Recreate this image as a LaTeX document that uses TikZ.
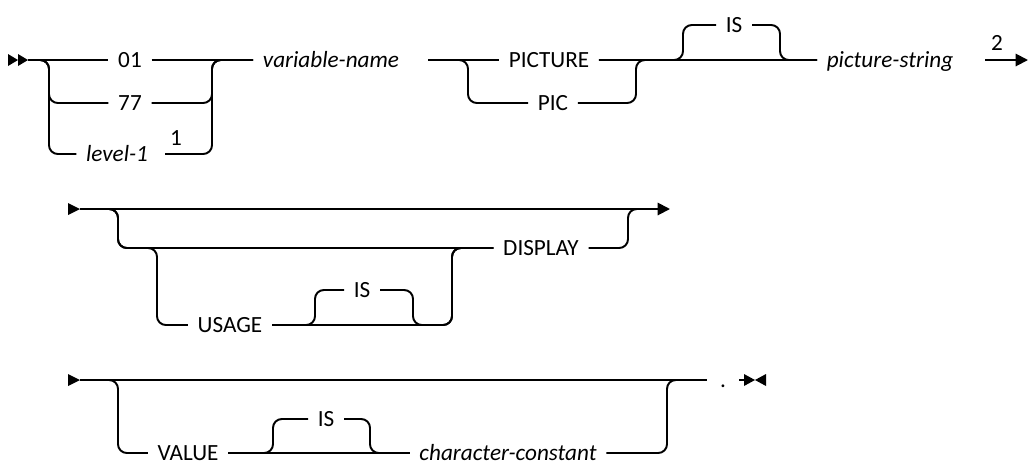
\documentclass[tikz,border=0pt]{standalone}
\usepackage{fontspec}
\setmainfont{Carlito}
\usetikzlibrary{calc, arrows.meta}

\begin{document}
\begin{tikzpicture}[x=0.02cm, y=-0.02cm, line width=1.1pt,
    rail/.style={rounded corners=5pt},
    kwd/.style={font=\fontsize{13.2}{15}\selectfont, inner xsep=5pt, inner ysep=0pt, text height=8.5pt, text depth=0pt},
    ital/.style={kwd, font=\fontsize{13.2}{15}\selectfont\itshape},
    fnote/.style={kwd, inner xsep=0pt},
    endarrow/.style={-{Triangle[length=7pt, width=7pt]}}]
    \useasboundingbox (0,0) rectangle (1028,464);

    % first line
    \foreach \x in {8,18}
        \fill (\x,54) -- (\x+10,60) -- (\x,66) -- cycle;
    \coordinate (s1) at (28,60);
    \node[kwd] (n01) at (130,60) {01};
    \node[kwd] (n77) at (130,103) {77};
    \node[ital] (lvl) at (117,154) {level-1};
    \node[fnote] (fn1) at (176,138) {1};
    \coordinate (la) at (165,154);
    \coordinate (c77) at (49,103);
    \coordinate (clv) at (49,154);
    \coordinate (m1) at (212,60);
    \node[ital] (var) at (331,60) {variable-name};
    \coordinate (pa) at (428,60);
    \node[kwd] (pict) at (549,60) {PICTURE};
    \node[kwd] (pic) at (553,103) {PIC};
    \coordinate (cpic) at (468,103);
    \coordinate (m2) at (636,60);
    \node[kwd] (is1) at (734,25) {IS};
    \coordinate (i1a) at (683,25);
    \coordinate (i1b) at (780,60);
    \node[ital] (ps) at (890,60) {picture-string};
    \node[fnote] (fn2) at (997,43) {2};
    \coordinate (pb) at (985,60);
    \coordinate (e1) at (1028,60);

    \draw (s1) -- (n01.west) (n01.east) -- (var.west);
    \draw[rail] (s1) -| (c77) -- (n77.west);
    \draw[rail] (s1) -| (clv) -- (lvl.west);
    \draw[rail] (n77.east) -| (m1) -- (var.west);
    \draw[rail] (la) -| (m1) -- (var.west);
    \draw (pa) -- (pict.west) (pict.east) -- (ps.west);
    \draw[rail] (pa) -| (cpic) -- (pic.west);
    \draw[rail] (pic.east) -| (m2) -- (ps.west);
    \draw[rail] (pict.east) -| (i1a) -- (is1.west);
    \draw[rail] (is1.east) -| (i1b) -- (ps.west);
    \draw[endarrow] (pb) -- (e1);

    % second line
    \foreach \y in {209,380}
        \fill (68,\y-6) -- (80,\y) -- (68,\y+6) -- cycle;
    \coordinate (s2) at (80,209);
    \coordinate (e2) at (670,209);
    \coordinate (c2a) at (118,248);
    \coordinate (c2b) at (157,325);
    \node[kwd] (usage) at (230,325) {USAGE};
    \node[kwd] (is2) at (362,290) {IS};
    \coordinate (i2a) at (315,290);
    \coordinate (i2b) at (413,325);
    \coordinate (c2c) at (452,248);
    \node[kwd] (disp) at (541,248) {DISPLAY};
    \coordinate (m3) at (628,209);

    \draw[endarrow] (s2) -- (e2);
    \draw[rail] (s2) -| (c2a) -- (disp.west);
    \draw[rail] (s2) -| (c2a) -| (c2b) -- (usage.west);
    \draw[rail] (usage.east) -| (c2c) -- (disp.west);
    \draw[rail] (usage.east) -| (i2a) -- (is2.west);
    \draw[rail] (is2.east) -| (i2b) -| (c2c) -- (disp.west);
    \draw[rail] (disp.east) -| (m3) -- ($(m3)+(15,0)$);

    % third line
    \coordinate (s3) at (80,380);
    \coordinate (c3a) at (118,453);
    \node[kwd] (val) at (188,453) {VALUE};
    \node[kwd] (is3) at (326,419) {IS};
    \coordinate (i3a) at (273,419);
    \coordinate (i3b) at (370,453);
    \node[ital] (cc) at (508,453) {character-constant};
    \coordinate (m4) at (667,380);
    \node[kwd, inner xsep=7pt] (dot) at (723,380) {.};
    \coordinate (t3) at (744,380);

    \draw (s3) -- (dot.west) (dot.east) -- (t3);
    \draw[rail] (s3) -| (c3a) -- (val.west);
    \draw (val.east) -- (cc.west);
    \draw[rail] (val.east) -| (i3a) -- (is3.west);
    \draw[rail] (is3.east) -| (i3b) -- (cc.west);
    \draw[rail] (cc.east) -| (m4) -- (dot.west);
    \fill (744,374) -- (755,380) -- (744,386) -- cycle (766,374) -- (755,380) -- (766,386) -- cycle;
\end{tikzpicture}
\end{document}
